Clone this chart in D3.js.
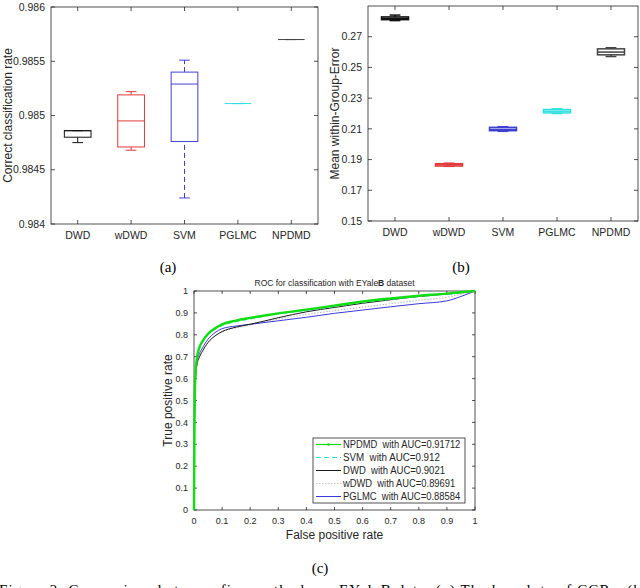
<!DOCTYPE html>
<html>
<head>
<meta charset="utf-8">
<script src="https://cdn.jsdelivr.net/npm/d3@7"></script>
<style>
  body { margin: 0; background: #fff; }
  svg { display: block; }
  text { font-family: "Liberation Sans", Arial, sans-serif; fill: #262626; }
  .lbl { font-family: "Liberation Serif", "Times New Roman", serif; fill: #000; }
  .leg { white-space: pre; }
</style>
</head>
<body>
<div id="chart"></div>
<script>
// methods shared by the two box plots
const methods = ["DWD", "wDWD", "SVM", "PGLMC", "NPDMD"];
const boxColors = ["#111", "#e03a3a", "#4040d0", "#30e0e0", "#444"];

// [lower whisker, q1, median, q3, upper whisker]
const ccrStats = [
  [0.98475, 0.98480, 0.98486, 0.98486, 0.98486],
  [0.98468, 0.98471, 0.98495, 0.98519, 0.98522],
  [0.98424, 0.98476, 0.98529, 0.98540, 0.98551],
  [0.98511, 0.98511, 0.98511, 0.98511, 0.98511],
  [0.98570, 0.98570, 0.98570, 0.98570, 0.98570]
];
const ccrTicks = [0.984, 0.9845, 0.985, 0.9855, 0.986];

const mweStats = [
  [0.2805, 0.2811, 0.2820, 0.2829, 0.2841],
  [0.1856, 0.1858, 0.1866, 0.1873, 0.1876],
  [0.2084, 0.2088, 0.2097, 0.2110, 0.2114],
  [0.2200, 0.2204, 0.2215, 0.2226, 0.2230],
  [0.2571, 0.2582, 0.2600, 0.2621, 0.2628]
];
const mweTicks = [0.15, 0.17, 0.19, 0.21, 0.23, 0.25, 0.27];

// ROC curves
const rocFpr = [0, 0.002, 0.005, 0.01, 0.02, 0.03, 0.05, 0.075, 0.1, 0.15, 0.2, 0.3, 0.4, 0.5, 0.6, 0.7, 0.8, 0.9, 0.95, 1];
const tprNPDMD = [0, 0.45, 0.62, 0.69, 0.745, 0.77, 0.805, 0.83, 0.848, 0.865, 0.877, 0.898, 0.915, 0.933, 0.952, 0.966, 0.978, 0.988, 0.994, 1];
const tprSVM   = [0, 0.44, 0.61, 0.685, 0.74, 0.765, 0.80, 0.825, 0.843, 0.86, 0.873, 0.895, 0.912, 0.93, 0.948, 0.962, 0.975, 0.986, 0.993, 1];
const tprDWD   = [0, 0.40, 0.58, 0.66, 0.70, 0.725, 0.765, 0.795, 0.815, 0.835, 0.848, 0.878, 0.905, 0.925, 0.944, 0.96, 0.975, 0.986, 0.992, 1];
const tprWDWD  = [0, 0.41, 0.59, 0.655, 0.70, 0.725, 0.765, 0.795, 0.812, 0.832, 0.845, 0.872, 0.893, 0.91, 0.926, 0.942, 0.957, 0.972, 0.985, 1];
const tprPGLMC = [0, 0.42, 0.60, 0.67, 0.715, 0.74, 0.78, 0.81, 0.828, 0.84, 0.848, 0.864, 0.88, 0.898, 0.913, 0.928, 0.942, 0.955, 0.975, 1];
const rocTicks = [0, 0.1, 0.2, 0.3, 0.4, 0.5, 0.6, 0.7, 0.8, 0.9, 1];
const legendNames = ["NPDMD  with AUC=0.91712", "SVM  with AUC=0.912", "DWD  with AUC=0.9021", "wDWD  with AUC=0.89691", "PGLMC  with AUC=0.88584"];

var svg = d3.select("#chart").append("svg")
  .attr("width", 640).attr("height", 588);

var axisCol = "#262626";

function boxPanel(stats, ticks, yDom, box, ylabel, labOff, fmt, lineW) {
  var x = d3.scaleLinear().domain([0.5, 5.5]).range([box.left, box.right]);
  var y = d3.scaleLinear().domain(yDom).range([box.bottom, box.top]);
  var g = svg.append("g");

  g.append("rect").attr("x", box.left).attr("y", box.top)
    .attr("width", box.right - box.left).attr("height", box.bottom - box.top)
    .attr("fill", "none").attr("stroke", axisCol).attr("stroke-width", 0.8);

  // y ticks both sides, inside
  ticks.forEach(function(t) {
    g.append("line").attr("x1", box.left).attr("x2", box.left + 4)
      .attr("y1", y(t)).attr("y2", y(t)).attr("stroke", axisCol).attr("stroke-width", 0.8);
    g.append("line").attr("x1", box.right).attr("x2", box.right - 4)
      .attr("y1", y(t)).attr("y2", y(t)).attr("stroke", axisCol).attr("stroke-width", 0.8);
    g.append("text").attr("x", box.left - 6).attr("y", y(t)).attr("dy", "0.35em")
      .attr("text-anchor", "end").attr("font-size", 10.5).text(fmt(t));
  });
  methods.forEach(function(m, i) {
    g.append("line").attr("x1", x(i + 1)).attr("x2", x(i + 1))
      .attr("y1", box.bottom).attr("y2", box.bottom - 4).attr("stroke", axisCol).attr("stroke-width", 0.8);
    g.append("line").attr("x1", x(i + 1)).attr("x2", x(i + 1))
      .attr("y1", box.top).attr("y2", box.top + 4).attr("stroke", axisCol).attr("stroke-width", 0.8);
    g.append("text").attr("x", x(i + 1)).attr("y", box.bottom + 15)
      .attr("text-anchor", "middle").attr("font-size", 10.5).text(m);
  });

  g.append("text")
    .attr("transform", "translate(" + (box.left - labOff) + "," + ((box.top + box.bottom) / 2) + ") rotate(-90)")
    .attr("text-anchor", "middle").attr("font-size", 12).text(ylabel);

  var hw = (x(1) - x(0.5)) * 0.5;   // half box width
  var cw = hw * 0.4;                // half cap width
  var boxes = g.selectAll("g.bx").data(stats).enter().append("g").attr("class", "bx");
  boxes.each(function(d, i) {
    var b = d3.select(this), cx = x(i + 1), c = boxColors[i];
    var dash = i == 2 && lineW < 1.5 ? "5,3" : null;
    b.append("line").attr("x1", cx).attr("x2", cx).attr("y1", y(d[0])).attr("y2", y(d[1]))
      .attr("stroke", c).attr("stroke-width", lineW).attr("stroke-dasharray", dash);
    b.append("line").attr("x1", cx).attr("x2", cx).attr("y1", y(d[3])).attr("y2", y(d[4]))
      .attr("stroke", c).attr("stroke-width", lineW).attr("stroke-dasharray", dash);
    [d[0], d[4]].forEach(function(v) {
      b.append("line").attr("x1", cx - cw).attr("x2", cx + cw).attr("y1", y(v)).attr("y2", y(v))
        .attr("stroke", c).attr("stroke-width", lineW);
    });
    b.append("rect").attr("x", cx - hw).attr("y", y(d[3]))
      .attr("width", hw * 2).attr("height", Math.max(0, y(d[1]) - y(d[3])))
      .attr("fill", "none").attr("stroke", c).attr("stroke-width", lineW);
    b.append("line").attr("x1", cx - hw).attr("x2", cx + hw).attr("y1", y(d[2])).attr("y2", y(d[2]))
      .attr("stroke", c).attr("stroke-width", lineW);
  });
}

boxPanel(ccrStats, ccrTicks, [0.984, 0.986], {left: 51, right: 318, top: 7, bottom: 224},
  "Correct classification rate", 39, d3.format(""), 1);
boxPanel(mweStats, mweTicks, [0.15, 0.29], {left: 368, right: 638, top: 6, bottom: 221},
  "Mean within-Group-Error", 29, d3.format(".2f"), 1.5);

// ROC panel
var rb = {left: 194, right: 475, top: 291, bottom: 510};
var rx = d3.scaleLinear().domain([0, 1]).range([rb.left, rb.right]);
var ry = d3.scaleLinear().domain([0, 1]).range([rb.bottom, rb.top]);
var rg = svg.append("g");

rg.append("rect").attr("x", rb.left).attr("y", rb.top)
  .attr("width", rb.right - rb.left).attr("height", rb.bottom - rb.top)
  .attr("fill", "none").attr("stroke", axisCol).attr("stroke-width", 0.8);

rocTicks.forEach(function(t) {
  rg.append("line").attr("x1", rx(t)).attr("x2", rx(t)).attr("y1", rb.bottom).attr("y2", rb.bottom - 3).attr("stroke", axisCol).attr("stroke-width", 0.8);
  rg.append("line").attr("x1", rx(t)).attr("x2", rx(t)).attr("y1", rb.top).attr("y2", rb.top + 3).attr("stroke", axisCol).attr("stroke-width", 0.8);
  rg.append("line").attr("x1", rb.left).attr("x2", rb.left + 3).attr("y1", ry(t)).attr("y2", ry(t)).attr("stroke", axisCol).attr("stroke-width", 0.8);
  rg.append("line").attr("x1", rb.right).attr("x2", rb.right - 3).attr("y1", ry(t)).attr("y2", ry(t)).attr("stroke", axisCol).attr("stroke-width", 0.8);
  rg.append("text").attr("x", rx(t)).attr("y", rb.bottom + 14).attr("text-anchor", "middle")
    .attr("font-size", 9).text(d3.format("")(t));
  rg.append("text").attr("x", rb.left - 6).attr("y", ry(t)).attr("dy", "0.35em").attr("text-anchor", "end")
    .attr("font-size", 9).text(d3.format("")(t));
});

rg.append("text").attr("x", (rb.left + rb.right) / 2).attr("y", rb.bottom + 29)
  .attr("text-anchor", "middle").attr("font-size", 12).text("False positive rate");
rg.append("text")
  .attr("transform", "translate(" + (rb.left - 22) + "," + ((rb.top + rb.bottom) / 2) + ") rotate(-90)")
  .attr("text-anchor", "middle").attr("font-size", 12).text("True positive rate");
var title = rg.append("text").attr("x", (rb.left + rb.right) / 2).attr("y", rb.top - 5)
  .attr("text-anchor", "middle").attr("font-size", 8.5);
title.append("tspan").text("ROC for classification with EYale");
title.append("tspan").attr("font-weight", "bold").text("B");
title.append("tspan").text(" dataset");

var rocSeries = [
  {tpr: tprWDWD,  color: "#b8b8b8", width: 1, dash: "1.5,1.5"},
  {tpr: tprPGLMC, color: "#3a3ad6", width: 1, dash: null},
  {tpr: tprDWD,   color: "#1a1a1a", width: 1, dash: null},
  {tpr: tprSVM,   color: "#30e0e0", width: 1.2, dash: "5,3"},
  {tpr: tprNPDMD, color: "#11dd11", width: 2.4, dash: null}
];
var line = d3.line()
  .x(function(d, i) { return rx(rocFpr[i]); })
  .y(function(d) { return ry(d); })
  .curve(d3.curveMonotoneX);

rg.selectAll("path.roc").data(rocSeries).enter().append("path")
  .attr("class", "roc")
  .attr("d", function(s) { return line(s.tpr); })
  .attr("fill", "none")
  .attr("stroke", function(s) { return s.color; })
  .attr("stroke-width", function(s) { return s.width; })
  .attr("stroke-dasharray", function(s) { return s.dash; });

// legend
var lg = {left: 313, right: 465, top: 438, bottom: 503};
rg.append("rect").attr("x", lg.left).attr("y", lg.top).attr("width", lg.right - lg.left)
  .attr("height", lg.bottom - lg.top).attr("fill", "#fff").attr("stroke", axisCol).attr("stroke-width", 0.8);
var legStyle = [
  {color: "#11dd11", width: 1.2, dash: null},
  {color: "#30e0e0", width: 1.2, dash: "5,3"},
  {color: "#1a1a1a", width: 1, dash: null},
  {color: "#c0c0c0", width: 1, dash: "1.5,1.5"},
  {color: "#3a3ad6", width: 1, dash: null}
];
legendNames.forEach(function(n, i) {
  var yy = 444.5 + i * 13;
  rg.append("line").attr("x1", 316).attr("x2", 341).attr("y1", yy).attr("y2", yy)
    .attr("stroke", legStyle[i].color).attr("stroke-width", legStyle[i].width)
    .attr("stroke-dasharray", legStyle[i].dash);
  if (i == 0) rg.append("circle").attr("cx", 328.5).attr("cy", yy).attr("r", 1.3).attr("fill", "#11dd11");
  rg.append("text").attr("class", "leg").attr("x", 343).attr("y", yy).attr("dy", "0.35em")
    .attr("font-size", 10).attr("textLength", n.length * 5.1).attr("lengthAdjust", "spacingAndGlyphs").text(n);
});

// panel labels and caption
svg.append("text").attr("class", "lbl").attr("x", 168).attr("y", 272).attr("text-anchor", "middle").attr("font-size", 15).text("(a)");
svg.append("text").attr("class", "lbl").attr("x", 461).attr("y", 272).attr("text-anchor", "middle").attr("font-size", 15).text("(b)");
svg.append("text").attr("class", "lbl").attr("x", 320).attr("y", 573).attr("text-anchor", "middle").attr("font-size", 15).text("(c)");
svg.append("text").attr("class", "lbl").attr("x", -1).attr("y", 595).attr("font-size", 15)
  .attr("textLength", 648).attr("lengthAdjust", "spacing")
  .text("Figure 2: Comparison between five methods on EYaleB data. (a) The boxplots of CCRs, (b)");
</script>
</body>
</html>
